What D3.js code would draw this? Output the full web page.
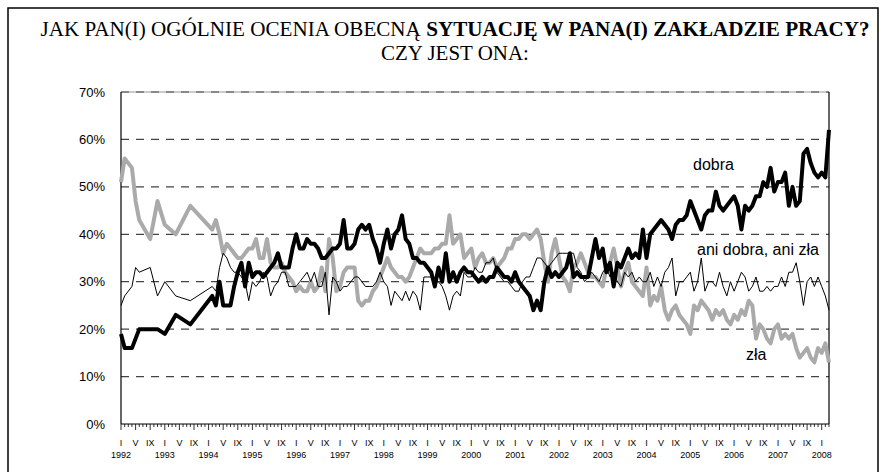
<!DOCTYPE html>
<html>
<head>
<meta charset="utf-8">
<script src="https://cdn.jsdelivr.net/npm/d3@7"></script>
<style>
  body { margin: 0; background: #fff; }
  svg { display: block; }
</style>
</head>
<body>
<svg width="886" height="472"></svg>
<script>
// survey months: sparse until early 1994, then monthly
var surveyMonths = [
  "1992-01","1992-02","1992-04","1992-05","1992-06","1992-09","1992-11",
  "1993-01","1993-04","1993-08",
  "1994-02","1994-03","1994-04","1994-05","1994-06","1994-07","1994-08","1994-09","1994-10","1994-11","1994-12",
  "1995-01","1995-02","1995-03","1995-04","1995-05","1995-06","1995-07","1995-08","1995-09","1995-10","1995-11","1995-12",
  "1996-01","1996-02","1996-03","1996-04","1996-05","1996-06","1996-07","1996-08","1996-09","1996-10","1996-11","1996-12",
  "1997-01","1997-02","1997-03","1997-04","1997-05","1997-06","1997-07","1997-08","1997-09","1997-10","1997-11","1997-12",
  "1998-01","1998-02","1998-03","1998-04","1998-05","1998-06","1998-07","1998-08","1998-09","1998-10","1998-11","1998-12",
  "1999-01","1999-02","1999-03","1999-04","1999-05","1999-06","1999-07","1999-08","1999-09","1999-10","1999-11","1999-12",
  "2000-01","2000-02","2000-03","2000-04","2000-05","2000-06","2000-07","2000-08","2000-09","2000-10","2000-11","2000-12",
  "2001-01","2001-02","2001-03","2001-04","2001-05","2001-06","2001-07","2001-08","2001-09","2001-10","2001-11","2001-12",
  "2002-01","2002-02","2002-03","2002-04","2002-05","2002-06","2002-07","2002-08","2002-09","2002-10","2002-11","2002-12",
  "2003-01","2003-02","2003-03","2003-04","2003-05","2003-06","2003-07","2003-08","2003-09","2003-10","2003-11","2003-12",
  "2004-01","2004-02","2004-03","2004-04","2004-05","2004-06","2004-07","2004-08","2004-09","2004-10","2004-11","2004-12",
  "2005-01","2005-02","2005-03","2005-04","2005-05","2005-06","2005-07","2005-08","2005-09","2005-10","2005-11","2005-12",
  "2006-01","2006-02","2006-03","2006-04","2006-05","2006-06","2006-07","2006-08","2006-09","2006-10","2006-11","2006-12",
  "2007-01","2007-02","2007-03","2007-04","2007-05","2007-06","2007-07","2007-08","2007-09","2007-10","2007-11","2007-12",
  "2008-01","2008-02","2008-03"
];

// "dobra" - good
var dobra = [
  19,16,16,18,20,20,20,
  19,23,21,
  27,25,30,25,25,25,29,32,34,29,34,
  31,32,32,31,32,33,34,36,33,33,33,37,
  40,37,37,39,38,38,37,35,35,36,37,37,
  38,43,37,37,38,41,42,41,42,39,37,34,
  38,41,37,40,41,44,39,38,35,35,34,34,
  33,32,29,33,30,36,30,32,30,32,33,32,
  32,31,30,31,30,31,31,33,32,31,31,30,
  32,30,29,28,27,24,26,24,30,33,31,32,
  31,32,33,36,31,32,31,31,31,35,39,35,
  37,32,34,29,34,33,35,37,35,36,35,41,
  35,40,41,42,43,42,41,39,42,43,43,44,
  47,45,43,41,44,45,45,49,46,45,46,47,
  48,46,41,46,45,46,48,48,51,50,54,49,
  51,51,53,46,50,46,47,57,58,55,53,52,
  53,52,62
];

// "ani dobra, ani zła" - neither good nor bad
var aniDobraAniZla = [
  25,27,29,33,32,33,27,
  30,27,26,
  29,28,33,36,35,33,32,32,31,30,26,
  30,29,30,32,31,27,29,30,32,32,29,29,
  29,30,31,32,30,32,29,29,32,23,31,30,
  28,29,29,30,31,31,30,29,29,29,30,32,
  30,29,25,28,27,26,28,26,28,27,24,31,
  31,31,30,30,29,27,24,27,28,27,32,31,
  31,33,32,32,34,34,35,32,31,30,30,29,
  28,28,30,31,31,33,35,35,34,33,34,35,
  36,36,36,36,36,33,32,30,31,32,31,30,
  32,33,31,32,30,29,32,31,32,30,31,30,
  30,32,29,31,29,32,33,35,27,30,30,31,
  32,28,30,35,28,30,30,29,32,29,27,30,
  28,30,32,31,28,29,31,28,28,29,28,29,
  29,31,29,32,32,34,30,25,30,31,29,31,
  29,27,24
];

// "zła" - bad
var zla = [
  51,56,54,47,43,39,47,
  42,40,46,
  41,43,40,36,38,37,36,35,35,36,37,
  37,39,35,35,39,34,33,33,34,32,31,30,
  28,29,28,28,30,28,29,33,28,39,35,28,
  29,32,33,33,33,26,25,26,26,28,29,31,
  33,35,33,32,31,31,30,31,33,35,37,36,
  36,36,37,37,38,38,44,38,39,40,35,36,
  37,33,35,36,34,34,35,33,34,35,37,37,
  39,39,40,40,39,40,41,39,34,30,36,39,
  35,31,30,28,33,34,36,34,32,31,31,30,
  29,33,34,37,33,29,32,34,30,29,28,27,
  33,25,27,26,29,24,22,24,25,23,22,21,
  19,25,24,26,25,24,22,24,23,24,22,21,
  23,22,24,23,26,25,18,21,20,18,17,20,
  21,18,19,18,19,16,14,15,16,14,13,16,
  15,17,13
];

var yTicks = [0, 10, 20, 30, 40, 50, 60, 70];
var monthLabels = ["I", "V", "IX"];
var yearLabels = ["1992","1993","1994","1995","1996","1997","1998","1999","2000",
                  "2001","2002","2003","2004","2005","2006","2007","2008"];

function monthIndex(s) {
  var p = s.split("-");
  return (+p[0] - 1992) * 12 + (+p[1] - 1);
}

var svg = d3.select("svg");
var font = "Arial, 'Liberation Sans', sans-serif";
var serif = "'Liberation Serif', 'Times New Roman', serif";

// outer frame
svg.append("rect")
  .attr("x", 8).attr("y", 8).attr("width", 870).attr("height", 470)
  .attr("fill", "none").attr("stroke", "#000").attr("stroke-width", 1.5);

// title, squeezed horizontally like the original
function condensedTitle(yPos, width) {
  var t = svg.append("text")
    .attr("text-anchor", "middle")
    .style("font-family", serif)
    .style("font-size", "21px");
  return {
    text: t,
    fit: function () {
      var w = t.node().getComputedTextLength();
      t.attr("transform", "translate(455," + yPos + ") scale(" + (width / w) + ",1)");
    }
  };
}
var line1 = condensedTitle(36, 830);
line1.text.append("tspan").text("JAK PAN(I) OGÓLNIE OCENIA OBECNĄ ");
line1.text.append("tspan").style("font-weight", "bold").text("SYTUACJĘ W PANA(I) ZAKŁADZIE PRACY?");
line1.fit();
var line2 = condensedTitle(60, 148);
line2.text.text("CZY JEST ONA:");
line2.fit();

var x = d3.scaleLinear().domain([0, 194]).range([121, 829]);
var y = d3.scaleLinear().domain([0, 70]).range([424, 92]);

// gridlines
svg.append("line")
  .attr("x1", x(0)).attr("x2", x(194)).attr("y1", y(70)).attr("y2", y(70))
  .attr("stroke", "#999").attr("stroke-width", 1.2);
svg.append("g")
  .selectAll("line")
  .data(yTicks.filter(function (d) { return d > 0; }))
  .enter().append("line")
  .attr("x1", x(0)).attr("x2", x(194))
  .attr("y1", function (d) { return y(d); })
  .attr("y2", function (d) { return y(d); })
  .attr("stroke", "#444")
  .attr("stroke-width", 1.2)
  .attr("stroke-dasharray", "8,7");

// y labels
svg.append("g")
  .selectAll("text")
  .data(yTicks)
  .enter().append("text")
  .attr("x", 105)
  .attr("y", function (d) { return y(d); })
  .attr("dy", "0.35em")
  .attr("text-anchor", "end")
  .style("font-family", font)
  .style("font-size", "13px")
  .text(function (d) { return d + "%"; });

// frame lines of plot
svg.append("line")
  .attr("x1", x(0)).attr("x2", x(0)).attr("y1", y(70)).attr("y2", y(0))
  .attr("stroke", "#000").attr("stroke-width", 1.2);
svg.append("line")
  .attr("x1", x(194)).attr("x2", x(194)).attr("y1", y(70)).attr("y2", y(0))
  .attr("stroke", "#000").attr("stroke-width", 1.2);

// x axis with monthly ticks
var xAxis = svg.append("g");
xAxis.append("line")
  .attr("x1", x(0)).attr("x2", x(194)).attr("y1", y(0)).attr("y2", y(0))
  .attr("stroke", "#000").attr("stroke-width", 1.2);
xAxis.selectAll("line.tick")
  .data(d3.range(0, 195))
  .enter().append("line")
  .attr("class", "tick")
  .attr("x1", function (d) { return x(d); })
  .attr("x2", function (d) { return x(d); })
  .attr("y1", y(0))
  .attr("y2", function (d) { return y(0) + (d % 4 === 0 ? 6 : 3); })
  .attr("stroke", "#000").attr("stroke-width", 0.8);

var romanTicks = [];
yearLabels.forEach(function (yr, i) {
  monthLabels.forEach(function (lab, j) {
    var m = i * 12 + j * 4;
    if (m <= 194) romanTicks.push({ m: m, label: lab });
  });
});
xAxis.selectAll("text.roman")
  .data(romanTicks)
  .enter().append("text")
  .attr("class", "roman")
  .attr("x", function (d) { return x(d.m); })
  .attr("y", 446)
  .attr("text-anchor", "middle")
  .style("font-family", font)
  .style("font-size", "9px")
  .text(function (d) { return d.label; });
xAxis.selectAll("text.year")
  .data(yearLabels)
  .enter().append("text")
  .attr("class", "year")
  .attr("x", function (d, i) { return x(i * 12); })
  .attr("y", 458)
  .attr("text-anchor", "middle")
  .style("font-family", font)
  .style("font-size", "9px")
  .text(function (d) { return d; });

// series
function lineFor(values) {
  return d3.line()
    .x(function (d, i) { return x(monthIndex(surveyMonths[i])); })
    .y(function (d) { return y(d); })(values);
}

svg.append("path")
  .attr("d", lineFor(zla))
  .attr("fill", "none").attr("stroke", "#aaaaaa")
  .attr("stroke-width", 4).attr("stroke-linejoin", "round");
svg.append("path")
  .attr("d", lineFor(dobra))
  .attr("fill", "none").attr("stroke", "#000")
  .attr("stroke-width", 4).attr("stroke-linejoin", "round");
svg.append("path")
  .attr("d", lineFor(aniDobraAniZla))
  .attr("fill", "none").attr("stroke", "#000")
  .attr("stroke-width", 1).attr("stroke-linejoin", "round");

// series labels
var seriesLabels = [
  { text: "dobra", x: 693, y: 170 },
  { text: "ani dobra, ani zła", x: 697, y: 255 },
  { text: "zła", x: 746, y: 360 }
];
svg.append("g")
  .selectAll("text")
  .data(seriesLabels)
  .enter().append("text")
  .attr("x", function (d) { return d.x; })
  .attr("y", function (d) { return d.y; })
  .style("font-family", font)
  .style("font-size", "16px")
  .text(function (d) { return d.text; });
</script>
</body>
</html>
